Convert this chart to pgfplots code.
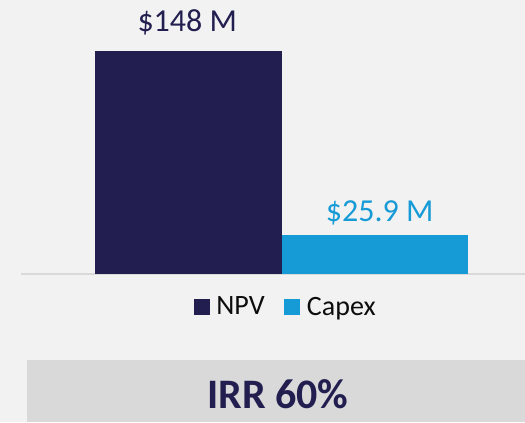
\documentclass[border=0pt]{standalone}
\usepackage{fontspec}
\setmainfont{Carlito}
\usepackage{pgfplots}
\pgfplotsset{compat=1.18}
\definecolor{bg}{HTML}{F2F2F2}
\definecolor{navy}{HTML}{221F50}
\definecolor{sky}{HTML}{179BD7}
\definecolor{boxgray}{HTML}{D9D9D9}
\definecolor{linegray}{HTML}{D9D9D9}
\definecolor{legtext}{HTML}{0D0D0D}
\begin{document}
\begin{tikzpicture}[x=0.75pt,y=0.75pt]
\useasboundingbox (0,0) rectangle (525,422);
\fill[bg] (0,0) rectangle (525,422);
\begin{scope}
\clip (0,0) rectangle (525,422);
\begin{axis}[
  at={(15.75pt,111pt)}, anchor=south west,
  scale only axis, width=390.75pt, height=180pt,
  xmin=-1, xmax=1, ymin=0, ymax=159.3,
  ybar=0pt, bar width=0.716,
  axis x line=bottom, axis y line=none,
  x axis line style={draw=linegray, line width=1.5pt, -},
  xtick=\empty, ytick=\empty,
  clip=false,
  /pgf/number format/assume math mode=true,
  nodes near coords={\$\pgfmathprintnumber{\pgfplotspointmeta} M},
  every node near coord/.append style={font=\fontsize{24}{28}\selectfont, anchor=base},
  legend image code/.code={\fill[#1] (0pt,-6pt) rectangle (12pt,6pt);},
  legend style={at={(0.5125,-0.1375)}, anchor=center, draw=none, fill=none,
    legend columns=2, font=\fontsize{21}{24}\selectfont\color{legtext},
    /tikz/every even column/.append style={column sep=9.75pt},
    nodes={inner xsep=5pt, inner ysep=0pt}},
]
\addplot[fill=navy, draw=none, every node near coord/.append style={text=navy, yshift=15pt, xshift=-0.75pt}] coordinates {(0,148)};
\addplot[fill=sky, draw=none, every node near coord/.append style={text=sky, yshift=9.75pt, xshift=3.75pt}] coordinates {(0,25.9)};
\legend{NPV, Capex}
\end{axis}
\end{scope}
\fill[boxgray] (27,0) rectangle (525,62);
\node[anchor=base, font=\fontsize{31.5}{36}\selectfont\bfseries, text=navy, inner sep=0pt] at (278,14) {IRR 60\%};
\end{tikzpicture}
\end{document}
